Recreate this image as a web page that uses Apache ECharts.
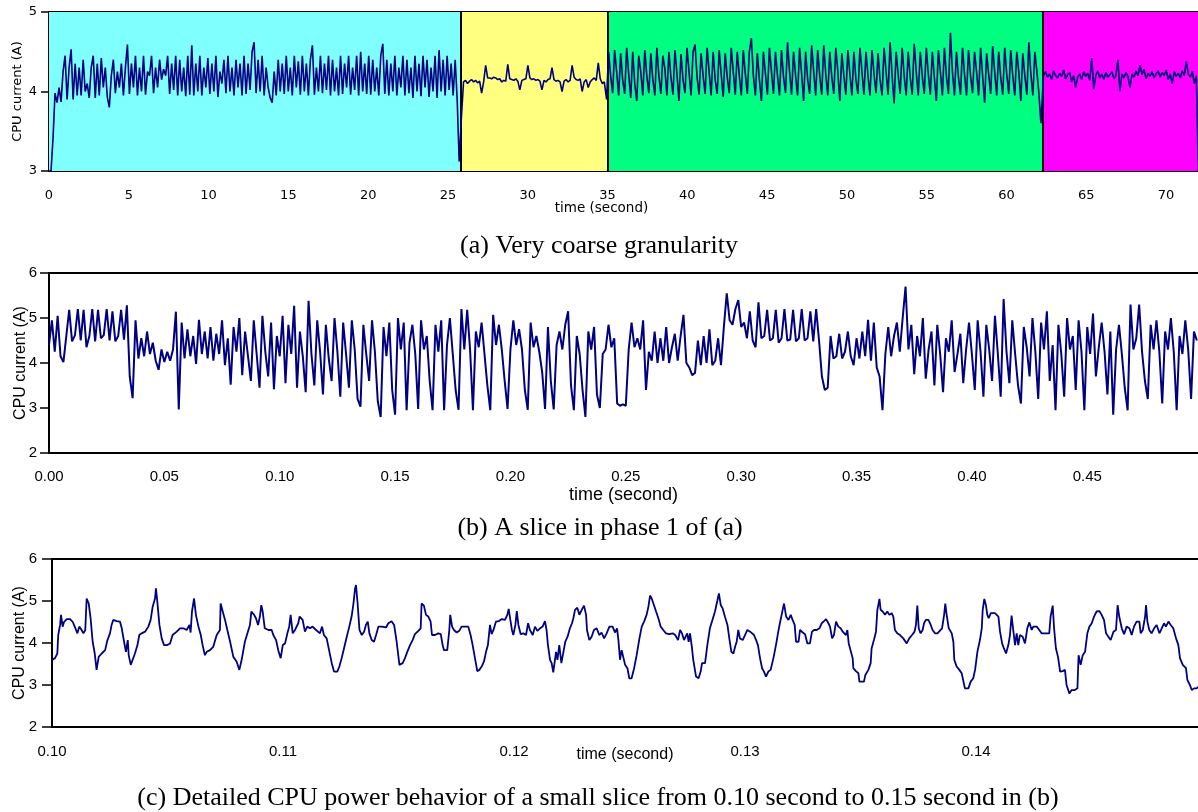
<!DOCTYPE html>
<html><head><meta charset="utf-8">
<script src="https://cdn.jsdelivr.net/npm/echarts@6/dist/echarts.min.js"></script>
<style>html,body{margin:0;padding:0;background:#fff}#c{width:1198px;height:812px}</style>
</head><body><div id="c"></div>
<script>
// ---------- Panel (a): very coarse granularity (time in s, current in A) ----------
const aStep = 0.126;
const aStarts = [0, 25.85, 34.94, 62.32];
const aPhaseBounds = [0, 25.78, 35.0, 62.3, 72];
const aPhase1 = [3.00,3.00,3.41,3.98,3.86,4.05,3.87,4.25,
4.45,3.90,4.30,4.53,3.90,4.35,3.95,4.30,
3.95,4.40,4.00,4.10,3.92,4.30,4.45,3.92,
4.35,3.95,4.42,4.05,4.30,3.93,3.80,4.20,
4.40,3.98,4.25,4.05,4.35,3.95,4.30,4.59,
3.97,4.35,4.05,4.45,3.95,4.30,4.00,4.45,
3.96,4.25,4.20,4.45,3.98,4.30,4.05,4.40,
4.15,4.28,4.20,4.45,3.97,4.35,4.02,4.45,
3.95,4.40,4.00,4.30,3.94,4.45,3.96,4.58,
3.95,4.35,4.00,4.45,3.95,4.30,4.05,4.42,
3.97,4.35,4.00,4.45,3.93,4.25,4.10,4.40,
3.98,4.45,4.00,4.30,3.95,4.40,4.05,4.35,
3.95,4.45,3.97,4.35,4.02,4.50,4.62,3.98,
4.40,4.00,4.45,3.95,4.30,4.05,3.92,3.86,
4.25,3.95,4.40,4.00,4.35,3.97,4.45,4.00,
4.30,3.95,4.45,4.05,4.38,3.96,4.45,4.00,
4.35,3.95,4.40,4.58,3.96,4.30,4.00,4.45,
3.98,4.35,4.02,4.45,3.95,4.40,4.00,4.30,
3.95,4.45,3.97,4.35,4.05,4.45,3.96,4.30,
4.02,4.45,3.95,4.50,4.00,4.35,3.97,4.45,
3.96,4.40,4.00,4.30,3.95,4.45,4.60,3.97,
4.40,3.95,4.35,4.00,4.45,3.95,4.30,4.05,
4.45,3.95,4.40,3.98,4.30,3.92,4.45,4.00,
4.35,3.94,4.45,4.05,4.40,3.93,4.30,4.00,
4.45,3.92,4.52,4.00,4.40,3.95,4.45,4.02,
4.35,3.95,4.40,3.90,3.12];
const aPhase2 = [3.70,4.12,4.14,4.10,4.13,4.15,4.12,4.14,
4.11,4.13,3.98,4.12,4.33,4.17,4.17,4.16,
4.18,4.17,4.15,4.16,4.12,4.14,4.13,4.34,
4.16,4.15,4.14,4.16,4.13,4.02,4.14,4.15,
4.16,4.33,4.17,4.15,4.16,4.14,4.15,4.13,
4.02,4.14,4.12,4.15,4.16,4.30,4.15,4.13,
4.14,4.12,4.00,4.13,4.15,4.12,4.14,4.33,
4.18,4.15,4.14,4.16,4.00,4.12,4.15,4.05,
4.12,4.15,4.17,4.14,4.36,4.16,4.10,4.12];
const aPhase3 = [3.90,4.50,4.20,3.98,4.52,4.25,3.95,4.48,
4.15,3.97,4.55,4.22,3.92,4.50,4.10,3.88,
4.45,4.25,3.95,4.52,4.20,3.98,4.48,4.15,
3.95,4.55,4.20,3.97,4.45,4.28,3.95,4.50,
4.18,3.96,4.52,4.22,3.88,4.47,4.15,3.98,
4.55,4.25,3.95,4.50,4.59,4.18,3.96,4.48,
4.20,3.97,4.55,4.25,3.95,4.50,4.15,3.97,
4.52,4.22,3.93,4.48,4.18,3.98,4.55,4.25,
3.96,4.50,4.20,3.95,4.52,4.22,3.97,4.50,
4.67,4.20,3.95,4.48,4.15,3.88,4.50,4.22,
3.96,4.55,4.25,3.97,4.50,4.20,3.95,4.52,
4.18,3.98,4.62,4.25,3.96,4.50,4.20,3.95,
4.55,4.22,3.88,4.50,4.15,3.97,4.58,4.25,
3.95,4.52,4.20,3.96,4.58,4.22,3.95,4.50,
4.18,3.97,4.55,4.25,3.88,4.48,4.20,3.96,
4.52,4.22,3.95,4.50,4.15,3.97,4.55,4.25,
3.96,4.50,4.20,3.95,4.52,4.22,3.98,4.48,
4.15,3.95,4.55,4.25,3.96,4.62,4.20,3.85,
4.50,4.22,3.97,4.55,4.20,3.95,4.50,4.18,
3.96,4.60,4.25,3.95,4.50,4.20,3.97,4.55,
4.22,3.96,4.50,4.18,3.88,4.52,4.25,3.95,
4.55,4.20,3.97,4.74,4.25,3.95,4.50,4.18,
3.96,4.55,4.22,3.95,4.52,4.20,3.98,4.50,
4.25,3.95,4.55,4.20,3.86,4.48,4.22,3.97,
4.57,4.25,3.95,4.50,4.18,3.96,4.55,4.22,
3.97,4.52,4.20,3.95,4.50,4.25,3.88,4.48,
4.20,3.96,4.62,4.22,3.95,4.50,4.25,3.98,
3.60];
const aPhase4 = [4.20,4.25,4.18,4.22,4.15,4.26,4.20,4.17,
4.23,4.19,4.27,4.16,4.21,4.24,4.12,4.20,
4.05,4.18,4.22,4.15,4.25,4.19,4.23,4.14,
4.42,4.03,4.20,4.26,4.17,4.22,4.15,4.24,
4.18,4.21,4.25,4.16,4.20,4.40,4.00,4.22,
4.17,4.24,4.19,4.05,4.22,4.18,4.26,4.20,
4.33,4.21,4.28,4.16,4.23,4.19,4.25,4.17,
4.22,4.26,4.18,4.24,4.20,4.27,4.15,4.22,
4.10,4.25,4.19,4.23,4.17,4.26,4.20,4.38,
4.22,4.18,4.25,4.10,4.20,3.00];

// ---------- Panel (b): slice in phase 1 (uniform sampling) ----------
const bStep = 0.00125;
const bSeg1 = [4.40,4.95,4.25,5.05,4.15,4.02,4.60,
5.18,4.48,4.62,5.20,4.50,5.18,4.35,4.60,5.20,4.48,5.18,4.55,4.62,5.20,4.50,5.15,4.48,4.60,5.18,4.52,5.28,
3.70,3.22,4.95,4.10,
4.55,4.15,4.70,4.20,4.45,4.05,3.85,
4.30,4.02,4.25,4.05,
4.30,5.14,2.97,4.90,4.10,
4.75,4.15,4.60,3.98,4.96,4.20,4.70,4.10,4.80,4.05,4.65,
4.20,4.95,3.95,4.55,3.52,4.80,4.25,5.00,3.73,4.70,4.15,3.60,
4.95,4.20,3.45,5.05,4.25,3.70,4.90,3.42,4.60,4.15,5.05,3.55,4.85,4.20,5.27,3.45,4.70,
4.15,3.35,5.38,4.20,3.50,4.95,4.25,3.30,4.85,4.10,3.60,
5.00,4.25,3.25,4.90,4.20,3.45,4.95,4.30,3.20,3.03,4.85,4.20,
3.60,4.95,4.25,3.15,2.80,4.80,4.15,4.90,3.40,2.85,5.00];
const bSeg2 = [4.30,4.90,2.95,4.45,4.85,4.20,2.98,4.95,4.30,4.60,3.60,2.95,4.85,4.25,4.95,2.95,4.40,5.00,4.20,3.40,2.96,5.20,4.30,
5.18,4.30,2.95,4.70,4.35,4.90,4.20,3.50,2.95,5.07,4.40,4.85,4.30,3.60,2.98,4.30,4.95,4.40,4.75,4.30,3.40,2.96,4.90,4.35,4.60,4.25,3.80,2.98,4.80,3.60,2.97,4.40,4.70,4.30,4.85,5.15,3.50,2.95,4.60,4.20,3.40,2.80,4.70,4.30,4.80,3.30,3.00,4.20,4.30,4.85,4.35,4.55,3.10,3.05,3.08,3.05,
4.30,4.90,4.35,4.55,4.30,4.95,3.40,4.25,
4.05,4.70,4.00,4.55,4.05,4.80,4.00,4.35,4.65,4.05,4.60,5.07,4.00,3.90,3.73,3.78,4.50,3.95,4.60,4.00,4.75,3.95,4.05,
4.55,3.95,4.80,5.55,
4.95,4.85,5.20,5.40,4.80,4.90,4.55,5.15,4.50,4.35,5.35,4.55,4.60,5.18,4.50,4.55,5.18,4.45,4.55,5.20,4.50,4.52,5.18,4.48,4.55];
const bSeg3 = [5.20,4.50,4.55,5.15,4.48,5.20,4.50,
3.70,3.40,3.45,
4.60,4.10,4.15,4.65,4.10,4.25,4.70,4.15,3.95,4.55,4.10,4.70,4.15,4.96,4.05,4.90,3.90,3.70,2.95,
4.20,4.80,4.15,4.60,4.90,4.25,5.00,5.70,
4.30,4.85,3.75,4.60,4.15,5.00,3.65,4.30,4.70,3.50,4.85,4.20,3.35,4.55,4.25,4.95,3.80,4.20,4.65,3.55,4.30,
4.90,4.20,3.40,4.95,4.25,3.25,4.85,4.30,3.60,5.05,4.20,3.25,5.42,4.25,3.55,4.95,4.20,3.50,3.10,4.80,4.35,3.70,5.00,
4.25,3.20,4.90,4.30,5.15,3.60,4.40,2.95,4.85,4.20,3.25,5.00,4.30,4.60,3.40,4.95,4.25,2.95,4.80,4.20,5.10,3.70,4.35,
4.90,4.25,3.30,4.70,2.85,4.30,4.85,4.20,3.45,2.95,5.30,4.30,4.55,5.30,4.25,3.60,3.20,4.85,4.30,4.95,4.25,3.10,4.70,
4.30,5.00,4.25,2.95,4.60,4.20,4.95,4.30,3.20,4.70,4.50];

// ---------- Panel (c): 0.10 s to 0.15 s, [time (ms), current (A)] ----------
const cSamples = [
[100.01,3.60],[100.13,3.64],[100.23,3.75],[100.27,4.19],[100.35,4.43],[100.39,4.67],[100.46,4.39],[100.52,4.50],[100.64,4.57],[100.78,4.57],
[100.90,4.50],[101.00,4.37],[101.10,4.23],[101.18,4.39],[101.28,4.31],[101.36,4.23],[101.44,4.31],[101.50,5.06],[101.59,4.94],[101.67,4.59],
[101.76,4.03],[101.85,3.75],[101.93,3.36],[102.02,3.67],[102.15,3.75],[102.30,3.83],[102.40,4.07],[102.51,4.23],[102.58,4.43],[102.65,4.55],
[102.80,4.52],[102.94,4.51],[103.02,4.35],[103.12,4.03],[103.20,3.79],[103.28,4.07],[103.32,3.71],[103.41,3.48],[103.49,3.52],[103.59,3.75],
[103.70,3.95],[103.78,4.19],[103.88,4.23],[104.03,4.27],[104.17,4.39],[104.27,4.55],[104.36,4.87],[104.46,5.06],[104.50,5.30],[104.56,4.98],
[104.65,4.43],[104.75,4.11],[104.85,3.95],[104.99,3.95],[105.11,3.99],[105.22,4.19],[105.40,4.27],[105.54,4.35],[105.69,4.35],[105.83,4.31],
[105.95,4.43],[106.00,4.25],[106.06,4.75],[106.15,5.06],[106.23,4.67],[106.34,4.39],[106.44,4.19],[106.52,3.95],[106.62,3.71],[106.70,3.79],
[106.84,3.83],[106.98,3.91],[107.13,4.19],[107.27,4.31],[107.30,4.94],[107.39,4.75],[107.49,4.55],[107.59,4.31],[107.71,4.03],[107.85,3.67],
[107.99,3.56],[108.11,3.36],[108.21,3.60],[108.35,4.03],[108.46,4.23],[108.57,4.43],[108.63,4.75],[108.75,4.67],[108.83,4.59],[108.92,4.43],
[109.00,4.63],[109.06,4.90],[109.12,4.75],[109.21,4.35],[109.37,4.31],[109.51,4.31],[109.58,4.19],[109.70,4.07],[109.81,3.79],[109.90,3.64],
[109.99,3.95],[110.09,3.99],[110.19,4.23],[110.27,4.39],[110.33,4.67],[110.42,4.23],[110.52,4.31],[110.66,4.47],[110.72,4.63],[110.85,4.55],
[110.95,4.27],[111.05,4.39],[111.17,4.35],[111.28,4.39],[111.43,4.31],[111.60,4.23],[111.69,4.39],[111.77,4.19],[111.89,4.11],[112.01,3.79],
[112.11,3.52],[112.21,3.32],[112.35,3.32],[112.44,3.44],[112.54,3.64],[112.64,3.87],[112.76,4.15],[112.87,4.39],[112.97,4.63],[113.05,4.94],
[113.12,5.30],[113.16,5.38],[113.23,4.94],[113.31,4.31],[113.41,4.19],[113.51,4.27],[113.59,4.43],[113.67,4.51],[113.74,4.23],[113.84,4.07],
[113.94,4.03],[114.03,4.19],[114.13,4.39],[114.27,4.39],[114.46,4.37],[114.56,4.47],[114.70,4.52],[114.81,4.43],[114.92,4.03],[115.04,3.48],
[115.18,3.52],[115.28,3.64],[115.38,3.79],[115.50,3.95],[115.61,4.07],[115.71,4.21],[115.86,4.29],[115.96,4.35],[116.00,4.94],[116.10,4.89],
[116.19,4.67],[116.29,4.63],[116.39,4.51],[116.45,4.19],[116.58,4.19],[116.72,4.23],[116.83,4.21],[116.91,3.95],[116.97,3.83],[117.11,3.83],
[117.20,4.31],[117.24,4.67],[117.32,4.39],[117.40,4.31],[117.52,4.25],[117.63,4.29],[117.73,4.39],[117.88,4.39],[118.02,4.39],[118.12,4.19],
[118.21,3.95],[118.31,3.64],[118.41,3.33],[118.50,3.36],[118.60,3.44],[118.70,3.56],[118.79,3.79],[118.87,3.95],[118.96,4.43],[119.03,4.21],
[119.11,4.31],[119.22,4.51],[119.34,4.52],[119.47,4.57],[119.61,4.55],[119.71,4.67],[119.77,4.81],[119.83,4.59],[119.91,4.31],[119.97,4.19],
[120.06,4.43],[120.12,4.76],[120.19,4.43],[120.29,4.21],[120.40,4.23],[120.52,4.19],[120.61,4.47],[120.69,4.31],[120.81,4.19],[120.91,4.39],
[121.01,4.29],[121.13,4.35],[121.24,4.39],[121.34,4.52],[121.41,4.31],[121.47,3.95],[121.56,3.60],[121.63,3.52],[121.70,3.30],[121.78,3.28],
[121.82,3.79],[121.88,3.60],[121.96,3.95],[122.05,3.52],[122.14,3.79],[122.22,4.03],[122.32,4.15],[122.42,4.35],[122.51,4.47],[122.57,4.59],
[122.64,4.79],[122.74,4.84],[122.83,4.67],[122.93,4.79],[123.03,4.89],[123.12,4.67],[123.16,4.31],[123.26,4.07],[123.36,4.15],[123.46,4.31],
[123.58,4.35],[123.69,4.19],[123.79,4.25],[123.90,4.11],[124.01,4.23],[124.13,4.39],[124.27,4.39],[124.37,4.25],[124.46,4.35],[124.52,4.07],
[124.59,3.60],[124.66,3.83],[124.73,3.87],[124.81,3.48],[124.91,3.40],[124.99,3.16],[125.09,3.16],[125.20,3.40],[125.31,3.71],[125.43,4.11],
[125.53,4.39],[125.63,4.51],[125.74,4.67],[125.82,4.87],[125.89,5.13],[125.96,5.06],[126.06,4.90],[126.15,4.75],[126.25,4.59],[126.35,4.39],
[126.46,4.31],[126.58,4.23],[126.72,4.21],[126.87,4.23],[126.98,4.19],[127.10,4.07],[127.19,4.31],[127.27,4.23],[127.36,4.07],[127.43,4.15],
[127.50,4.23],[127.56,4.03],[127.62,4.23],[127.69,3.95],[127.76,3.60],[127.88,3.20],[127.99,3.16],[128.08,3.32],[128.14,3.52],[128.27,3.52],
[128.37,3.95],[128.48,4.35],[128.59,4.55],[128.70,4.75],[128.80,5.00],[128.87,5.18],[128.95,4.90],[129.03,4.83],[129.13,4.63],[129.24,4.43],
[129.32,4.11],[129.41,3.79],[129.50,3.75],[129.57,3.91],[129.64,4.03],[129.71,4.31],[129.78,4.11],[129.90,4.07],[130.00,4.19],[130.10,4.31],
[130.22,4.27],[130.29,4.31],[130.39,4.19],[130.48,4.07],[130.56,3.95],[130.65,3.64],[130.74,3.40],[130.82,3.32],[130.91,3.20],[131.01,3.32],
[131.11,3.36],[131.23,3.64],[131.34,3.95],[131.44,4.27],[131.51,4.47],[131.63,4.79],[131.69,4.94],[131.78,4.63],[131.88,4.55],[131.98,4.67],
[132.06,4.55],[132.15,4.43],[132.21,4.03],[132.32,4.03],[132.38,4.31],[132.50,4.25],[132.60,4.21],[132.70,3.99],[132.81,3.99],[132.90,4.27],
[132.99,4.31],[133.10,4.31],[133.22,4.35],[133.32,4.47],[133.42,4.52],[133.51,4.57],[133.61,4.47],[133.68,4.39],[133.77,4.11],[133.85,4.19],
[133.94,4.51],[134.04,4.39],[134.14,4.35],[134.23,4.27],[134.29,4.31],[134.37,4.19],[134.43,4.31],[134.49,3.99],[134.57,4.03],[134.66,3.64],
[134.69,3.40],[134.80,3.33],[134.91,3.28],[134.95,3.08],[135.15,3.08],[135.21,3.24],[135.34,3.36],[135.44,3.52],[135.48,3.87],[135.58,4.07],
[135.67,4.27],[135.73,4.79],[135.82,5.05],[135.87,4.79],[135.96,4.75],[136.06,4.67],[136.16,4.75],[136.25,4.67],[136.35,4.71],[136.42,4.63],
[136.49,4.31],[136.59,4.23],[136.71,4.19],[136.85,4.11],[137.00,3.99],[137.11,4.11],[137.23,4.19],[137.34,4.27],[137.40,4.43],[137.46,4.89],
[137.52,4.35],[137.60,4.23],[137.69,4.31],[137.75,4.47],[137.83,4.55],[137.94,4.55],[138.04,4.43],[138.12,4.31],[138.23,4.23],[138.33,4.23],
[138.41,4.21],[138.53,4.35],[138.62,4.67],[138.67,4.94],[138.73,4.67],[138.82,4.35],[138.95,4.23],[139.02,4.03],[139.06,3.60],[139.16,3.44],
[139.28,3.36],[139.38,3.28],[139.45,3.24],[139.52,2.92],[139.67,2.92],[139.77,3.08],[139.88,3.16],[139.96,3.36],[140.06,3.79],[140.17,4.07],
[140.25,4.35],[140.29,4.79],[140.36,5.05],[140.43,4.90],[140.49,4.67],[140.55,4.59],[140.64,4.71],[140.72,4.67],[140.82,4.71],[140.97,4.63],
[141.04,4.27],[141.13,3.99],[141.21,3.87],[141.30,3.75],[141.40,3.95],[141.47,4.19],[141.54,4.65],[141.62,4.27],[141.69,3.95],[141.76,4.23],
[141.83,3.95],[141.90,4.19],[142.02,4.15],[142.12,3.99],[142.22,4.35],[142.31,4.49],[142.41,4.31],[142.48,4.39],[142.63,4.39],[142.74,4.31],
[142.84,4.23],[143.06,4.23],[143.17,4.23],[143.23,4.63],[143.32,4.89],[143.38,4.35],[143.46,3.87],[143.55,3.67],[143.64,3.32],[143.75,3.33],
[143.85,3.36],[143.92,3.00],[144.04,2.80],[144.14,2.88],[144.28,2.88],[144.39,2.92],[144.44,3.71],[144.53,3.48],[144.62,3.71],[144.72,3.79],
[144.82,4.23],[144.91,4.39],[145.01,4.47],[145.11,4.63],[145.22,4.75],[145.34,4.76],[145.44,4.67],[145.54,4.55],[145.63,4.23],[145.73,4.15],
[145.83,4.07],[145.95,4.27],[146.06,4.31],[146.13,4.90],[146.20,4.63],[146.31,4.35],[146.41,4.21],[146.52,4.39],[146.64,4.35],[146.74,4.19],
[146.84,4.39],[146.95,4.51],[147.07,4.51],[147.13,4.23],[147.22,4.31],[147.32,4.63],[147.36,4.90],[147.42,4.51],[147.50,4.31],[147.60,4.23],
[147.71,4.35],[147.82,4.43],[147.94,4.23],[148.04,4.35],[148.14,4.47],[148.22,4.39],[148.33,4.51],[148.43,4.43],[148.54,4.35],[148.66,4.11],
[148.76,3.95],[148.83,3.64],[148.95,3.48],[149.09,3.40],[149.15,3.12],[149.26,3.00],[149.34,2.88],[149.44,2.92],[149.55,2.92],[149.64,2.96]
];

const captions = ['(a) Very coarse granularity', '(b) A slice in phase 1 of (a)',
  '(c) Detailed CPU power behavior of a small slice from 0.10 second to 0.15 second in (b)'];

// ---------- build series data ----------
const aData = [];
[aPhase1, aPhase2, aPhase3, aPhase4].forEach((arr, k) => arr.forEach((v, i) => aData.push([aStarts[k] + i * aStep, v])));
const bData = bSeg1.concat(bSeg2, bSeg3).map((v, i) => [i * bStep, v]);
const cData = cSamples.map(p => [p[0] / 1000, p[1]]);

const phaseColors = ['#80FFFF', '#FFFF80', '#00FF80', '#FF00FF'];
const LINE = '#000080';
const black = '#000';

function bottomX(grid, min, max, interval, fmt, font, size, margin, nameGap, nameSize, namePad) {
  return {
    gridIndex: grid, type: 'value', min: min, max: max, interval: interval, position: 'bottom',
    axisLine: { show: true, onZero: false, lineStyle: { color: black, width: 2 } },
    axisTick: { show: false }, splitLine: { show: false },
    axisLabel: { color: black, fontFamily: font, fontSize: size, margin: margin, showMaxLabel: false, formatter: fmt },
    name: 'time (second)', nameLocation: 'middle', nameGap: nameGap, nameMoveOverlap: false,
    nameTextStyle: { color: black, fontFamily: font, fontSize: nameSize, padding: namePad }
  };
}
function topX(grid) {
  return { gridIndex: grid, type: 'value', position: 'top', min: 0, max: 1,
    axisLine: { show: true, onZero: false, lineStyle: { color: black, width: 2 } },
    axisTick: { show: false }, axisLabel: { show: false }, splitLine: { show: false } };
}
function leftY(grid, min, max, font, size, margin, tickLen, nameGap, nameSize) {
  return {
    gridIndex: grid, type: 'value', min: min, max: max, interval: 1,
    axisLine: { show: true, onZero: false, lineStyle: { color: black, width: 2 } },
    axisTick: { show: true, length: tickLen, lineStyle: { color: black, width: 1.5 } },
    splitLine: { show: false },
    axisLabel: { color: black, fontFamily: font, fontSize: size, margin: margin },
    name: 'CPU current (A)', nameLocation: 'middle', nameGap: nameGap, nameMoveOverlap: false,
    nameTextStyle: { color: black, fontFamily: font, fontSize: nameSize }
  };
}

const chart = echarts.init(document.getElementById('c'), null, { renderer: 'canvas' });
chart.setOption({
  animation: false,
  backgroundColor: '#fff',
  grid: [
    { left: 49, top: 12, width: 1149, height: 159, containLabel: false, outerBoundsMode: 'none' },
    { left: 49, top: 273, width: 1149, height: 180, containLabel: false, outerBoundsMode: 'none' },
    { left: 52, top: 559, width: 1146, height: 168, containLabel: false, outerBoundsMode: 'none' }
  ],
  xAxis: [
    bottomX(0, 0, 72, 5, v => String(Math.round(v)), 'DejaVu Sans', 13, 18, 30, 13.5, [0, 44, 0, 0]),
    bottomX(1, 0, 0.498, 0.05, v => v.toFixed(2), 'Liberation Sans', 15, 16, 33, 18, 0),
    bottomX(2, 0.1, 0.14961, 0.01, v => v.toFixed(2), 'Liberation Sans', 15, 17, 20, 16, 0),
    topX(0), topX(1), topX(2)
  ],
  yAxis: [
    leftY(0, 3, 5, 'DejaVu Sans', 13, 12, 8, 25, 13),
    leftY(1, 2, 6, 'Liberation Sans', 15, 12, 9, 20, 16),
    leftY(2, 2, 6, 'Liberation Sans', 15, 15, 10, 24, 16)
  ],
  series: [
    {
      type: 'line', xAxisIndex: 0, yAxisIndex: 0, data: [], silent: true, z: 1,
      markArea: { silent: true, data: phaseColors.map((c, k) => [
        { xAxis: aPhaseBounds[k], itemStyle: { color: c, opacity: 1 } },
        { xAxis: aPhaseBounds[k + 1] }
      ]) },
      markLine: { silent: true, symbol: 'none', label: { show: false },
        lineStyle: { color: black, width: 2, type: 'solid' },
        data: aPhaseBounds.slice(1, 4).map(b => ({ xAxis: b })) }
    },
    { type: 'line', xAxisIndex: 0, yAxisIndex: 0, data: aData, symbol: 'none', z: 5,
      lineStyle: { color: LINE, width: 1.6 } },
    { type: 'line', xAxisIndex: 1, yAxisIndex: 1, data: bData, symbol: 'none', z: 5,
      lineStyle: { color: LINE, width: 2 } },
    { type: 'line', xAxisIndex: 2, yAxisIndex: 2, data: cData, symbol: 'none', z: 5,
      lineStyle: { color: LINE, width: 1.8 } }
  ],
  graphic: [
    { type: 'text', x: 599, y: 246, style: { text: captions[0], fill: black, fontFamily: 'Liberation Serif', fontSize: 26, align: 'center', verticalAlign: 'middle' } },
    { type: 'text', x: 600, y: 528, style: { text: captions[1], fill: black, fontFamily: 'Liberation Serif', fontSize: 26, align: 'center', verticalAlign: 'middle' } },
    { type: 'text', x: 598, y: 798, style: { text: captions[2], fill: black, fontFamily: 'Liberation Serif', fontSize: 26, align: 'center', verticalAlign: 'middle' } }
  ]
});
</script>
</body></html>
